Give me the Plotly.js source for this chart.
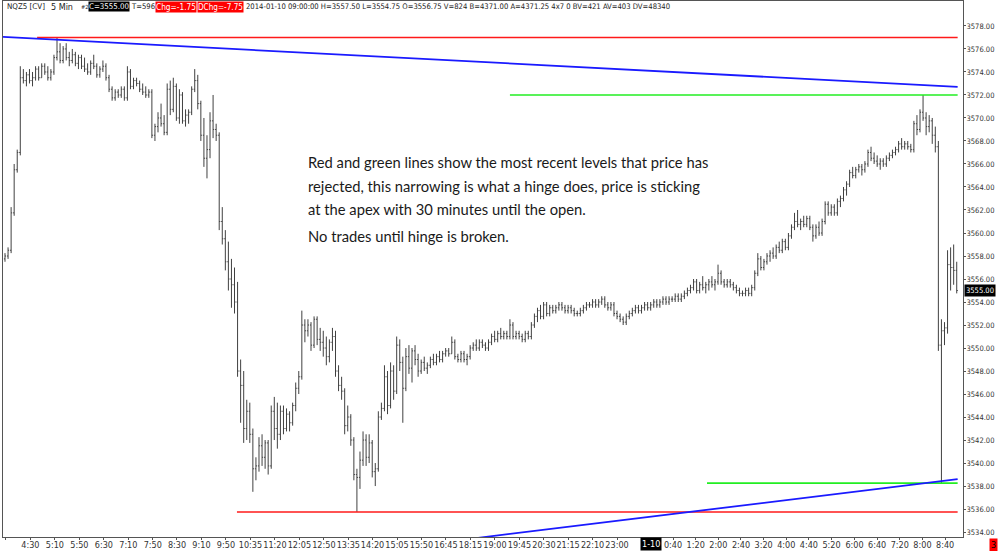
<!DOCTYPE html>
<html><head><meta charset="utf-8">
<script src="https://cdn.plot.ly/plotly-3.0.1.min.js"></script>
<style>html,body{margin:0;padding:0;background:#fff;overflow:hidden}#chart{width:1000px;height:551px}</style>
</head><body><div id="chart"></div>
<script>
// ---------------- DATA ----------------
const openP = [
3557.75,3558,3558.5,3561.75,3565.5,3567,
3573.5,3573.25,3573.75,3573.25,3573.5,3574.25,3573.5,3574.5,3574,3573.5,
3574,3575.25,3575.75,3575,3576,3575.25,3575,
3575.5,3574.75,3575.25,3574.5,3574.25,3574,3574.75,3574.5,3573.75,3574.25,
3574.5,3573.5,3572.5,3571.75,3572.25,3572,3572.5,
3571.75,3574,3572.75,3573.25,3573,3572.5,3572.25,3572,
3572.25,3568.5,3569.25,3570,3569.5,
3568.75,3572.5,3570.75,3572.75,3570,3572,
3569.75,3570.25,3570.5,3572.5,3573.25,
3571.25,3568.5,3566.5,3567.25,3569.75,3569,
3568.5,3561,3559.5,3557.5,3556,3555.5,
3554,3548,3546.75,3543,3544.5,3542.5,3539.5,
3539.75,3541.5,3540.5,3541.75,3539.75,3544.5,
3543,3542.5,3544.5,3543,3544.25,3543.5,3545,
3546.5,3547.5,3552,3551.5,3552,3550.25,3552.5,3550.75,3550.5,
3550,3549.25,3550.5,3551,3548,3546.75,
3546.25,3543.25,3544,3542,3539,3538.75,
3540.25,3542,3540.5,3541.75,3539.25,3539.5,
3544,3544.75,3547.5,3545,3548,3546.25,3550.25,
3548.75,3546.5,3549.25,3548.25,3549.75,3549,
3548,3548.75,3548.25,3548.5,3549,3548.75,3549.25,3549,3549.5,3549.75,3549.5,3550.5,
3549.25,3549,3549.5,3549,3549.25,3550,3550.25,3550,3550.5,3550.25,3550,3550.5,3551,
3550.75,3551.25,3551,3551.25,3551,3552,3551,3551.25,3551,3550.75,3551.25,3551,3552,3552.75,3553.25,3552.75,3553.75,3553,
3553.5,3553.25,3553.5,3553.75,3553.5,3553.25,3553.5,3553.25,3553,3553,3553.25,3553.5,3553.75,3553.75,3554,3553.75,3554,3554.25,3553.75,3553.5,3553.75,3553,3552.75,3552.5,3552.25,3552.75,3553,
3553.25,3553.5,3553.25,3553.5,3553.75,3553.5,3553.75,3554,3553.75,3554,3554.25,3554,3554.25,3554.25,3554.5,3554.25,3554.5,3554.75,3555,3555.25,3555.75,3555,
3555.5,3555.25,3555.5,3555.75,3555.5,3555.75,3556.5,3555.75,3555.5,3555.75,3555.5,3555.25,3555,3554.75,3554.75,3555,3554.75,3555.25,
3556.5,3557.75,3557,3557.5,3558,3558.25,3558,3558.75,3558.5,3559.25,3558.75,3559.75,3560.5,3561,3560.75,3561,3560.75,
3561.25,3560.5,3559.75,3560.5,3560,3561,3562.5,3561.75,3562.25,3561.75,3562.75,3563,3563.75,
3564.25,3565.25,3565,3565.5,3565.75,3565.5,3566,3567,3566.5,3566.25,3566,3566.25,3566,3566.5,
3566.75,3567,3567.25,3567.75,3567.5,3567.75,3567.5,3567.25,3569.5,3569,3570.5,3570,3569.25,3569.75,3568.5,
3567.5,3550.25,3551.5,3551.75,3557.25,3557,3556.75];

const highP = [
3558.25,3558.75,3562.25,3566,3567.25,3574.5,
3574.25,3574,3574.25,3574,3574.5,3574.5,3574.75,3574.75,3574.5,3574.25,
3575.5,3577,3576.5,3576.25,3576.5,3575.75,3576,
3575.75,3575.5,3575.5,3575.25,3574.75,3575,3575.5,3574.75,3574.5,3575,
3574.75,3573.75,3572.75,3572.5,3572.5,3572.75,3572.75,
3574.5,3574.25,3573.5,3573.5,3573.25,3573,3572.75,3572.5,
3572.5,3569.5,3570.5,3571.25,3570.25,
3573,3573.25,3573.5,3573,3572.5,3572.25,
3570.75,3570.75,3572.75,3574.25,3573.75,
3571.5,3570,3568.5,3570.5,3572,3569.5,
3568.75,3562.25,3560.25,3559.25,3557.75,3557,
3555.75,3549,3548,3545.5,3545.25,3543,3540.5,
3542.25,3542.5,3542,3542,3545,3545.75,
3545.25,3545,3545,3544.75,3544.5,3545.25,3547,
3548,3553.25,3552.5,3552.5,3552.25,3552.75,3552.75,3551.75,3551.5,
3551,3550.75,3551.75,3551.5,3548.5,3547.5,
3546.5,3545,3544.25,3542.25,3539.5,3541,
3542.75,3542.5,3542.5,3542,3540,3544.5,
3545.25,3548.5,3548,3548.75,3548.5,3551,3550.75,
3549.25,3550,3550.25,3550,3550.25,3549.5,
3549,3549.25,3548.75,3549.25,3549.5,3549.5,3549.75,3549.75,3550,3550,3551,3550.75,
3549.5,3549.75,3549.75,3549.5,3550.25,3550.5,3550.75,3550.75,3550.75,3550.5,3550.75,3551.25,3551.5,
3551.5,3551.75,3551.5,3551.5,3552.5,3552.25,3551.5,3551.5,3551.25,3551.5,3551.5,3552.25,3553,3553.5,3553.75,3554,3554,3553.75,
3553.75,3553.75,3554,3554,3553.75,3553.75,3553.75,3553.5,3553.25,3553.5,3553.75,3554,3554,3554.25,3554.25,3554.25,3554.5,3554.5,3554,3554,3554,3553.25,3553,3552.75,3553,3553.25,3553.5,
3553.75,3553.75,3553.75,3554,3554,3554,3554.25,3554.25,3554.25,3554.5,3554.5,3554.5,3554.5,3554.75,3554.75,3554.75,3555,3555.25,3555.5,3556,3556,3555.75,
3556.25,3555.75,3556,3556.25,3556,3557.25,3556.75,3556,3556,3556,3555.75,3555.5,3555.25,3555,3555.25,3555.25,3555.5,3556.75,
3558.25,3558,3557.75,3558.25,3558.5,3558.75,3559,3559.25,3559.5,3559.5,3560,3560.75,3561.75,3562,3561.25,3561.5,3561.5,
3561.5,3560.75,3560.75,3561,3561.25,3562.75,3562.75,3562.5,3562.5,3563,3563.25,3564,3564.5,
3565.5,3565.75,3565.75,3566,3566,3566.25,3567.25,3567.5,3567,3566.75,3566.5,3566.5,3566.75,3567,
3567.25,3567.5,3568,3568.25,3568,3568,3567.75,3569.75,3570.25,3570.75,3572,3570.5,3570.25,3570,3569.25,
3568,3552.5,3552.25,3558.5,3558.75,3559,3557.5];

const lowP = [
3557.5,3557.75,3558.25,3561.5,3565.25,3566.75,
3573,3572.75,3573,3572.75,3573.25,3573.25,3573.5,3573.75,3573.25,3573.25,
3573.75,3575,3574.75,3574.75,3575,3574.5,3574.75,
3574.5,3574.25,3574.25,3574,3573.75,3573.75,3574.25,3573.5,3573.5,3574,
3573.25,3572.25,3571.5,3571.5,3571.75,3571.75,3571.5,
3571.5,3572.5,3572.5,3572.75,3572.25,3572,3571.75,3571.75,
3568.25,3568,3568.75,3569.25,3568.5,
3568.5,3570.25,3570.5,3569.75,3569.5,3569.5,
3569.25,3569.5,3570.25,3572.25,3570.75,
3568,3565.75,3564.75,3566.5,3568.25,3568,
3560.25,3559,3556.75,3555,3553.5,3553,
3547.5,3543.5,3541.75,3542,3541.75,3537.5,3538.5,
3539.25,3539.75,3539.5,3539,3539.5,3542,
3541.25,3542,3542.5,3542.75,3542.75,3543.25,3544.5,
3546,3547.25,3550.5,3551,3549.75,3550,3550.25,3549.75,3549.25,
3548.5,3548.75,3549.75,3547.5,3546.25,3545.5,
3542.5,3542.75,3541.5,3538.5,3535.75,3537.75,
3539.75,3539.75,3540,3538.75,3538,3539.25,
3543.75,3544.5,3544.25,3544.75,3545.5,3546,3548,
3543.5,3546.25,3547.75,3547,3548.5,3547.5,
3547.75,3548,3547.75,3548.25,3548.5,3548.5,3548.75,3548.75,3549.25,3549.25,3549.5,3549,
3548.75,3548.75,3548.75,3548.5,3549,3549.75,3549.75,3549.75,3550,3549.75,3549.75,3550.25,3550.5,
3550.5,3550.75,3550.75,3550.75,3550.75,3550.75,3550.75,3550.75,3550.5,3550.5,3550.75,3550.75,3551.75,3552.25,3552.5,3552.5,3552.75,3552.75,
3553,3553,3553.25,3553.25,3553,3553,3553,3552.75,3552.75,3552.75,3553,3553.25,3553.5,3553.5,3553.5,3553.5,3553.75,3553.5,3553.25,3553.25,3552.75,3552.5,3552.25,3552,3552,3552.5,3552.75,
3553,3553,3553,3553.25,3553.25,3553.25,3553.5,3553.5,3553.5,3553.75,3553.75,3553.75,3554,3554,3554,3554,3554.25,3554.5,3554.75,3555,3554.75,3554.75,
3555,3554.75,3555,3555.25,3555,3555.5,3555.5,3555.25,3555.25,3555.25,3555,3554.75,3554.5,3554.5,3554.5,3554.5,3554.5,3555,
3556.25,3556.75,3556.75,3557.25,3557.5,3557.75,3557.75,3558.25,3558.25,3558.5,3558.5,3559.5,3560.25,3560.5,3560.25,3560.5,3560.5,
3560.25,3559.25,3559.5,3559.75,3559.75,3560.75,3561.5,3561.5,3561.5,3561.5,3562.25,3562.75,3563.25,
3564,3564.75,3564.75,3565.25,3565,3565.25,3565.75,3566.25,3566,3565.75,3565.5,3565.75,3565.75,3566.25,
3566.5,3566.75,3567,3567.25,3567.25,3567.25,3567,3567,3568.5,3568.75,3569.75,3568.5,3568.75,3567.75,3567,
3549.75,3538.25,3550.25,3551.25,3555,3555.5,3554.75];

const closeP = [
3558,3558.5,3561.75,3565.5,3567,3573.5,
3573.25,3573.75,3573.25,3573.5,3574.25,3573.5,3574.5,3574,3573.5,3574,
3575.25,3575.75,3575,3576,3575.25,3575,3575.5,
3574.75,3575.25,3574.5,3574.25,3574,3574.75,3574.5,3573.75,3574.25,3574.5,
3573.5,3572.5,3571.75,3572.25,3572,3572.5,3571.75,
3574,3572.75,3573.25,3573,3572.5,3572.25,3572,3572.25,
3568.5,3569.25,3570,3569.5,3568.75,
3572.5,3570.75,3572.75,3570,3572,3569.75,
3570.25,3570.5,3572.5,3573.25,3571.25,
3568.5,3566.5,3567.25,3569.75,3569,3568.5,
3561,3559.5,3557.5,3556,3555.5,3554,
3548,3546.75,3543,3544.5,3542.5,3539.5,3539.75,
3541.5,3540.5,3541.75,3539.75,3544.5,3543,
3542.5,3544.5,3543,3544.25,3543.5,3545,3546.5,
3547.5,3552,3551.5,3552,3550.25,3552.5,3550.75,3550.5,3550,
3549.25,3550.5,3551,3548,3546.75,3546.25,
3543.25,3544,3542,3539,3538.75,3540.25,
3542,3540.5,3541.75,3539.25,3539.5,3544,
3544.75,3547.5,3545,3548,3546.25,3550.25,3548.75,
3546.5,3549.25,3548.25,3549.75,3549,3548,
3548.75,3548.25,3548.5,3549,3548.75,3549.25,3549,3549.5,3549.75,3549.5,3550.5,3549.25,
3549,3549.5,3549,3549.25,3550,3550.25,3550,3550.5,3550.25,3550,3550.5,3551,3550.75,
3551.25,3551,3551.25,3551,3552,3551,3551.25,3551,3550.75,3551.25,3551,3552,3552.75,3553.25,3552.75,3553.75,3553,3553.5,
3553.25,3553.5,3553.75,3553.5,3553.25,3553.5,3553.25,3553,3553,3553.25,3553.5,3553.75,3553.75,3554,3553.75,3554,3554.25,3553.75,3553.5,3553.75,3553,3552.75,3552.5,3552.25,3552.75,3553,3553.25,
3553.5,3553.25,3553.5,3553.75,3553.5,3553.75,3554,3553.75,3554,3554.25,3554,3554.25,3554.25,3554.5,3554.25,3554.5,3554.75,3555,3555.25,3555.75,3555,3555.5,
3555.25,3555.5,3555.75,3555.5,3555.75,3556.5,3555.75,3555.5,3555.75,3555.5,3555.25,3555,3554.75,3554.75,3555,3554.75,3555.25,3556.5,
3557.75,3557,3557.5,3558,3558.25,3558,3558.75,3558.5,3559.25,3558.75,3559.75,3560.5,3561,3560.75,3561,3560.75,3561.25,
3560.5,3559.75,3560.5,3560,3561,3562.5,3561.75,3562.25,3561.75,3562.75,3563,3563.75,3564.25,
3565.25,3565,3565.5,3565.75,3565.5,3566,3567,3566.5,3566.25,3566,3566.25,3566,3566.5,3566.75,
3567,3567.25,3567.75,3567.5,3567.75,3567.5,3567.25,3569.5,3569,3570.5,3570,3569.25,3569.75,3568.5,3567.5,
3550.25,3551.5,3551.75,3557.25,3557,3556.75,3555];

// time-axis labels (bar index at which each label sits)
const tickIdx = [0.3, 8.3, 16.3, 24.3, 32.3, 40.3, 48.3, 56.2, 64.2, 72.2,
                 80.2, 88.2, 96.2, 104.2, 112.2, 120.1, 128.1, 136.1, 144.1, 152.1,
                 160.1, 168.1, 176.1, 184.0, 192.0, 200.0,
                 218.3, 225.7, 233.1, 240.5, 247.9, 255.3, 262.7, 270.1, 277.6, 285.0, 292.4, 299.8, 307.2];
const tickLabels = [":50","4:30","5:10","5:50","6:30","7:10","7:50","8:30","9:10","9:50",
                    "10:35","11:20","12:05","12:50","13:35","14:20","15:05","15:50","16:45","18:15",
                    "19:00","19:45","20:30","21:15","22:10","23:00",
                    "0:40","1:20","2:00","2:40","3:20","4:00","4:40","5:20","6:00","6:40","7:20","8:00","8:40"];
const dateIdx = 211.1, dateLabel = "1-10";
const priceTicks = [3534,3536,3538,3540,3542,3544,3546,3548,3550,3552,3554,3556,3558,3560,3562,3564,3566,3568,3570,3572,3574,3576,3578];
const lastPrice = 3555.00;

// drawn levels
const redTopLevel = 3577.0,    redTopFrom = 10.5;
const redLowLevel = 3535.75,   redLowFrom = 75.8;
const greenTopLevel = 3572.0,  greenTopFrom = 165;
const greenLowLevel = 3538.25, greenLowFrom = 229.4;
const levelsTo = 311.3;
const blueDownIdx = [-0.65, 311.3], blueDownPrice = [3577.05, 3572.7];
const blueUpIdx = [154.6, 311.3],   blueUpPrice = [3533.5, 3538.6];

// header strip: text, left edge and width it occupies in the reference
const headerParts = [
 {t:"NQZ5 [CV]", x:6, w:38}, {t:"5 Min", x:50, w:22}, {t:"#2", x:80, w:7.5},
 {t:"C=3555.00", x:88, w:40, bg:"#000", c:"#fff"}, {t:"T=596", x:130, w:23},
 {t:"Chg=-1.75", x:155, w:40, bg:"#ff0000", c:"#fff"}, {t:"DChg=-7.75", x:197, w:45, bg:"#ff0000", c:"#fff"},
 {t:"2014-01-10 09:00:00 H=3557.50 L=3554.75 O=3556.75 V=824 B=4371.00 A=4371.25 4x7 0 BV=421 AV=403 DV=48340", x:245, w:425}
];
const noteLines = [
 "Red and green lines show the most recent levels that price has",
 "rejected, this narrowing is what a hinge does, price is sticking",
 "at the apex with 30 minutes until the open.",
 "No trades until hinge is broken."
];
const noteY = [162, 186, 209, 236];

// ---------------- CHART ----------------
const W = 1000, H = 551, L = 3, R = 37, T = 1, B = 14;
const pw = W - L - R, ph = H - T - B;
const px = x => (x - L) / pw;
const py = y => (H - B - y) / ph;
const NARROW = "'Liberation Sans Narrow','Arial Narrow','DejaVu Sans Condensed',sans-serif";
const NOTEFONT = "Lato, 'Open Sans', sans-serif";
const idx = openP.map((_, i) => i);

const ctx = document.createElement('canvas').getContext('2d');
function fitSize(text, width, family, maxSize) {
  ctx.font = '20px ' + family;
  const w = ctx.measureText(text).width;
  return Math.min(maxSize, 20 * width / w);
}
const priceText = priceTicks.map(v => v.toFixed(2));
const yLabelSize = fitSize(priceText[0], 28, NARROW, 9.5);

const trace = {
  type: 'ohlc', x: idx, open: openP, high: highP, low: lowP, close: closeP,
  increasing: {line: {color: '#404040', width: 1}},
  decreasing: {line: {color: '#404040', width: 1}},
  tickwidth: 0.35, hoverinfo: 'skip', showlegend: false
};

function hline(level, from, color) {
  return {type:'line', xref:'x', yref:'y', x0:from, x1:levelsTo, y0:level, y1:level,
          line:{color:color, width:1.6}, layer:'above'};
}
const shapes = [
  hline(redTopLevel, redTopFrom, '#ff1a1a'),
  hline(redLowLevel, redLowFrom, '#ff1a1a'),
  hline(greenTopLevel, greenTopFrom, '#22ee22'),
  hline(greenLowLevel, greenLowFrom, '#22ee22'),
  {type:'line', xref:'x', yref:'y', x0:blueDownIdx[0], x1:blueDownIdx[1], y0:blueDownPrice[0], y1:blueDownPrice[1], line:{color:'#1a1aff', width:1.8}},
  {type:'line', xref:'x', yref:'y', x0:blueUpIdx[0], x1:blueUpIdx[1], y0:blueUpPrice[0], y1:blueUpPrice[1], line:{color:'#1a1aff', width:1.8}}
];

const annotations = [];
headerParts.forEach(p => annotations.push({
  xref:'paper', yref:'paper', x:px(p.x), y:py(7), xanchor:'left', yanchor:'middle',
  text:p.t, showarrow:false, bgcolor:p.bg || 'rgba(0,0,0,0)', borderpad:0,
  font:{family:NARROW, size:fitSize(p.t, p.w, NARROW, 10.8), color:p.c || '#222'}
}));
const noteSize = fitSize(noteLines[0], 401, NOTEFONT, 16);
noteLines.forEach((t, k) => annotations.push({
  xref:'paper', yref:'paper', x:px(306), y:py(noteY[k]), xanchor:'left', yanchor:'middle',
  text:t, showarrow:false, font:{family:NOTEFONT, size:noteSize, color:'#1a1a1a'}
}));
annotations.push({xref:'x', yref:'paper', x:dateIdx, y:py(544), xanchor:'center', yanchor:'middle',
  text:dateLabel, showarrow:false, bgcolor:'#000', borderpad:1, font:{family:NARROW, size:9, color:'#fff'}});
annotations.push({xref:'paper', yref:'y', x:px(964.5), y:lastPrice, xanchor:'left', yanchor:'middle',
  text:lastPrice.toFixed(2), showarrow:false, bgcolor:'#000', borderpad:1, font:{family:NARROW, size:yLabelSize, color:'#fff'}});
annotations.push({xref:'paper', yref:'paper', x:px(993.5), y:py(544.5), xanchor:'center', yanchor:'middle',
  text:'3', showarrow:false, bgcolor:'#ff0000', borderpad:1, font:{family:NARROW, size:9, color:'#000'}});

const layout = {
  width: W, height: H, margin: {l:L, r:R, t:T, b:B, pad:0},
  paper_bgcolor:'#fff', plot_bgcolor:'#fff', showlegend:false,
  xaxis: {type:'linear', range:[-0.65, 313.05], rangeslider:{visible:false}, showgrid:false, zeroline:false,
          showline:true, mirror:true, linecolor:'#555', linewidth:1, ticks:'outside', ticklen:2, tickcolor:'#555',
          tickvals:tickIdx, ticktext:tickLabels, tickangle:0, ticklabelstandoff:-3,
          tickfont:{family:NARROW, size:9, color:'#333'}, fixedrange:true},
  yaxis: {side:'right', range:[3533.57, 3580.17], showgrid:false, zeroline:false,
          showline:true, mirror:true, linecolor:'#555', linewidth:1, ticks:'outside', ticklen:2, tickcolor:'#555',
          ticklabelstandoff:-1,
          tickvals:priceTicks, ticktext:priceText, tickfont:{family:NARROW, size:yLabelSize, color:'#333'}, fixedrange:true},
  shapes: shapes, annotations: annotations
};
Plotly.newPlot('chart', [trace], layout, {displayModeBar:false, staticPlot:true});
</script>
</body></html>
